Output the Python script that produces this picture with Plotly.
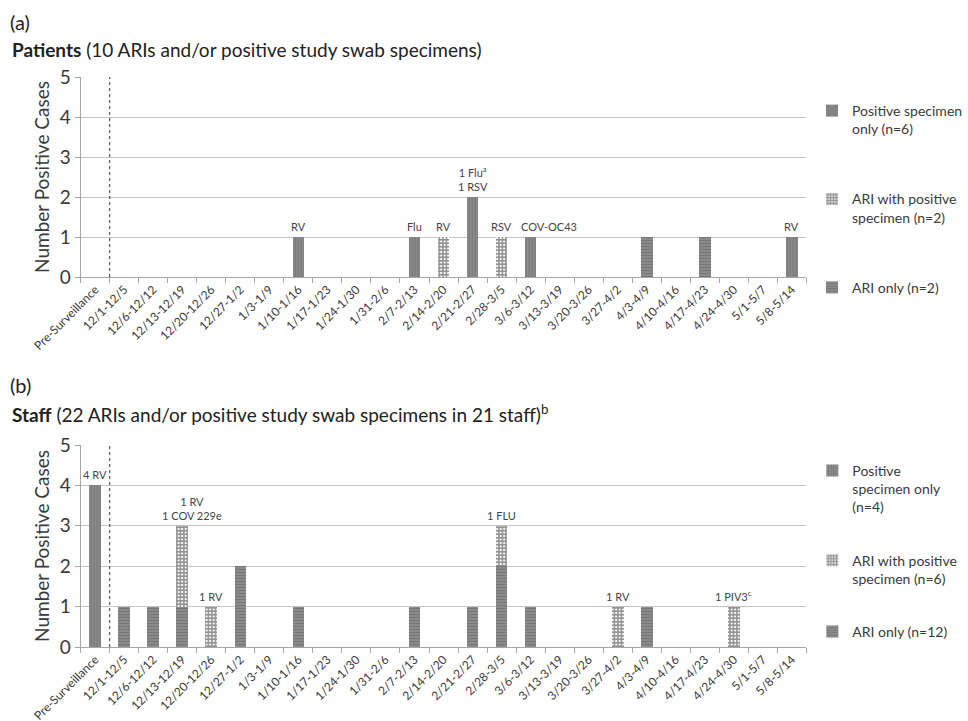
import plotly.graph_objects as go

W, H = 968, 721

categories = ["Pre-Surveillance", "12/1-12/5", "12/6-12/12", "12/13-12/19", "12/20-12/26",
              "12/27-1/2", "1/3-1/9", "1/10-1/16", "1/17-1/23", "1/24-1/30", "1/31-2/6",
              "2/7-2/13", "2/14-2/20", "2/21-2/27", "2/28-3/5", "3/6-3/12", "3/13-3/19",
              "3/20-3/26", "3/27-4/2", "4/3-4/9", "4/10-4/16", "4/17-4/23", "4/24-4/30",
              "5/1-5/7", "5/8-5/14"]

# Patients (a)
pat_ari_only = [0,0,0,0,0,0,0,0,0,0,0,0,0,0,0,0,0,0,0,1,0,1,0,0,0]
pat_ari_pos  = [0,0,0,0,0,0,0,0,0,0,0,0,1,0,1,0,0,0,0,0,0,0,0,0,0]
pat_pos_only = [0,0,0,0,0,0,0,1,0,0,0,1,0,2,0,1,0,0,0,0,0,0,0,0,1]
pat_labels = {"1/10-1/16": "RV", "2/7-2/13": "Flu", "2/14-2/20": "RV",
              "2/21-2/27": "1 Flu<sup>a</sup><br>1 RSV", "2/28-3/5": "RSV",
              "3/6-3/12": "COV-OC43", "5/8-5/14": "RV"}
pat_label_shift = {"3/6-3/12": 18}
pat_legend = ["ARI only (n=2)", "ARI with positive<br>specimen (n=2)", "Positive specimen<br>only (n=6)"]

# Staff (b)
stf_ari_only = [0,1,1,1,0,2,0,1,0,0,0,1,0,1,2,1,0,0,0,1,0,0,0,0,0]
stf_ari_pos  = [0,0,0,2,1,0,0,0,0,0,0,0,0,0,1,0,0,0,1,0,0,0,1,0,0]
stf_pos_only = [4,0,0,0,0,0,0,0,0,0,0,0,0,0,0,0,0,0,0,0,0,0,0,0,0]
stf_labels = {"Pre-Surveillance": "4 RV", "12/13-12/19": "1 RV<br>1 COV 229e",
              "12/20-12/26": "1 RV", "2/28-3/5": "1 FLU", "3/27-4/2": "1 RV",
              "4/24-4/30": "1 PIV3<sup>c</sup>"}
stf_label_shift = {"12/13-12/19": 10}
stf_legend = ["ARI only (n=12)", "ARI with positive<br>specimen (n=6)", "Positive<br>specimen only<br>(n=4)"]

FONT = "Lato"
TXT = "#3a3a3a"

styles = [
    dict(shape="-", bg="#8e8e8e", fg="#5e5e5e", size=3, sol=0.45),
    dict(shape="+", bg="#ffffff", fg="#2a2a2a", size=3.5, sol=0.7),
    dict(shape="|", bg="#8e8e8e", fg="#5e5e5e", size=3, sol=0.45),
]
ranks = [3, 2, 1]

fig = go.Figure()

def add_panel(series, names, xa, ya, legend):
    for i, (vals, name) in enumerate(zip(series, names)):
        st = styles[i]
        fig.add_trace(go.Bar(
            x=categories, y=vals, name=name, xaxis=xa, yaxis=ya, legend=legend,
            legendgroup=legend + str(i), legendrank=ranks[i],
            marker=dict(color=st["bg"], line=dict(width=0),
                        pattern=dict(shape=st["shape"], fgcolor=st["fg"], bgcolor=st["bg"],
                                     size=st["size"], solidity=st["sol"])),
            hoverinfo="skip"))

add_panel([pat_ari_only, pat_ari_pos, pat_pos_only], pat_legend, "x", "y", "legend")
add_panel([stf_ari_only, stf_ari_pos, stf_pos_only], stf_legend, "x2", "y2", "legend2")

def px2x(p):
    return p / W

def px2y(p):
    return 1 - p / H

axis_common = dict(showgrid=False, showline=True, linecolor="#a6a6a6", linewidth=1,
                   ticks="outside", tickcolor="#a6a6a6", ticklen=5, tickson="boundaries",
                   tickangle=-45, tickfont=dict(family=FONT, size=12, color=TXT),
                   automargin=False, fixedrange=True)
yaxis_common = dict(range=[0, 5], dtick=1, showgrid=True, gridcolor="#c4c4c4", gridwidth=1,
                    showline=True, linecolor="#a6a6a6", ticks="outside", tickcolor="#a6a6a6",
                    ticklen=5, tickfont=dict(family=FONT, size=19, color=TXT),
                    zeroline=False, automargin=False,
                    title=dict(text="Number Positive Cases", font=dict(family=FONT, size=19, color=TXT),
                               standoff=5))

fig.update_layout(
    width=W, height=H, margin=dict(l=0, r=0, t=0, b=0),
    paper_bgcolor="white", plot_bgcolor="white",
    barmode="stack", bargap=0.6, showlegend=True,
    xaxis=dict(domain=[px2x(82), px2x(820)], anchor="y", **axis_common),
    yaxis=dict(domain=[px2y(277), px2y(77)], anchor="x", **yaxis_common),
    xaxis2=dict(domain=[px2x(82), px2x(820)], anchor="y2", **axis_common),
    yaxis2=dict(domain=[px2y(647), px2y(445)], anchor="x2", **yaxis_common),
    legend=dict(x=px2x(826), y=px2y(95), xanchor="left", yanchor="top",
                traceorder="grouped", tracegroupgap=49, valign="top", itemwidth=30,
                font=dict(family=FONT, size=14, color=TXT), bgcolor="rgba(0,0,0,0)"),
    legend2=dict(x=px2x(826), y=px2y(455), xanchor="left", yanchor="top",
                 traceorder="grouped", tracegroupgap=32, valign="top", itemwidth=30,
                 font=dict(family=FONT, size=14, color=TXT), bgcolor="rgba(0,0,0,0)"),
)

# separator between pre-surveillance and surveillance weeks
sep = 0.5  # boundary between categories[0] and categories[1]
for xr, yr in (("x", "y"), ("x2", "y2")):
    fig.add_shape(type="line", xref=xr, yref=yr, x0=sep, x1=sep, y0=0, y1=5,
                  line=dict(color="#555555", width=1.2, dash="dot"))

def add_labels(labels, shifts, series, xr, yr):
    for cat, txt in labels.items():
        idx = categories.index(cat)
        total = sum(s[idx] for s in series)
        fig.add_annotation(x=cat, y=total, xref=xr, yref=yr, text=txt, showarrow=False,
                           yanchor="bottom", yshift=2, xshift=shifts.get(cat, 0), align="center",
                           font=dict(family=FONT, size=11, color="#444444"))

add_labels(pat_labels, pat_label_shift, [pat_ari_only, pat_ari_pos, pat_pos_only], "x", "y")
add_labels(stf_labels, stf_label_shift, [stf_ari_only, stf_ari_pos, stf_pos_only], "x2", "y2")

titles = [
    ("(a)", 8, 22, 20),
    ("<b>Patients</b> (10 ARIs and/or positive study swab specimens)", 10, 50, 19),
    ("(b)", 8, 385, 20),
    ("<b>Staff</b> (22 ARIs and/or positive study swab specimens in 21 staff)<sup>b</sup>", 10, 413, 19),
]
for text, xp, yp, size in titles:
    fig.add_annotation(x=px2x(xp), y=px2y(yp), xref="paper", yref="paper", text=text,
                       showarrow=False, xanchor="left", yanchor="middle",
                       font=dict(family=FONT, size=size, color="#222222"))

fig.write_html("out.html")
